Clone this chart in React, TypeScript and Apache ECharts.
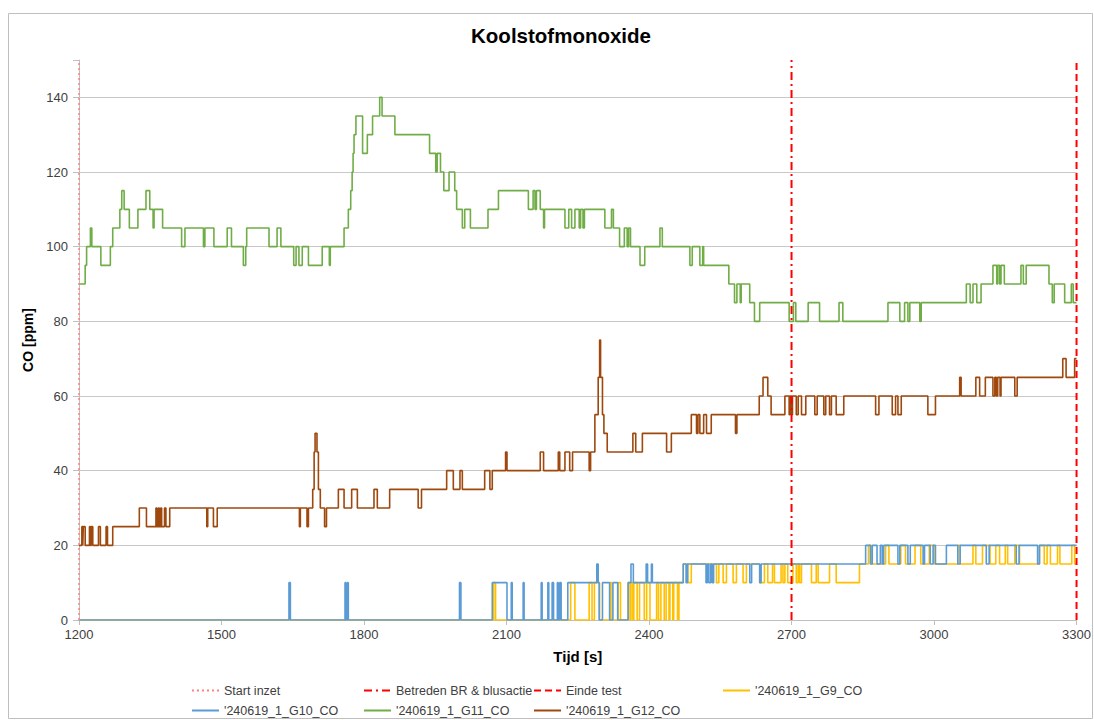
import React, { useEffect, useRef } from "react";
import * as echarts from "echarts";

// ---- Data (time [s], CO [ppm]) : value holds until the next point ----
const G9_CO: [number, number][] = [
  [1200, 0], [2073, 10], [2077, 0], [2235, 10], [2244, 0], [2274, 10], [2280, 0], [2285, 10], [2296, 0],
  [2318, 10], [2322, 0], [2335, 10], [2340, 0], [2356, 10], [2360, 0], [2362, 10], [2366, 0], [2368, 10],
  [2375, 0], [2380, 10], [2390, 0], [2395, 10], [2402, 0], [2416, 10], [2420, 0], [2425, 10], [2432, 0],
  [2436, 10], [2442, 0], [2444, 10], [2450, 0], [2452, 10], [2460, 0], [2463, 10], [2472, 15], [2482, 10],
  [2489, 15], [2542, 10], [2547, 15], [2556, 10], [2563, 15], [2577, 10], [2584, 15], [2598, 10], [2605, 15],
  [2633, 10], [2643, 15], [2650, 10], [2660, 15], [2664, 10], [2678, 15], [2682, 10], [2686, 15], [2692, 10],
  [2703, 15], [2710, 10], [2714, 15], [2717, 10], [2721, 15], [2742, 10], [2752, 15], [2756, 10], [2780, 15],
  [2794, 10], [2843, 15], [2862, 20], [2868, 15], [2898, 20], [2905, 15], [2930, 20], [2940, 15], [2960, 20],
  [2972, 15], [2990, 20], [3000, 15], [3050, 20], [3055, 15], [3082, 20], [3088, 15], [3102, 20], [3118, 15],
  [3130, 20], [3138, 15], [3150, 20], [3155, 15], [3170, 20], [3180, 15], [3222, 20], [3232, 15], [3238, 20],
  [3245, 15], [3260, 20], [3265, 15], [3290, 20], [3296, 15], [3300, 15],
];

const G10_CO: [number, number][] = [
  [1200, 0], [1642, 10], [1645, 0], [1760, 10], [1762, 0], [1765, 10], [1767, 0], [2001, 10], [2004, 0],
  [2070, 10], [2101, 0], [2110, 10], [2112, 0], [2135, 10], [2137, 0], [2173, 10], [2175, 0], [2187, 10],
  [2189, 0], [2196, 10], [2199, 0], [2207, 10], [2209, 0], [2212, 10], [2215, 0], [2229, 10], [2290, 15],
  [2293, 10], [2295, 0], [2302, 10], [2317, 0], [2324, 10], [2334, 0], [2356, 10], [2362, 15], [2367, 10],
  [2394, 15], [2397, 10], [2405, 15], [2407, 10], [2472, 15], [2478, 10], [2481, 15], [2520, 10], [2523, 15],
  [2526, 10], [2530, 15], [2533, 10], [2536, 15], [2612, 10], [2616, 15], [2633, 10], [2636, 15], [2856, 20],
  [2866, 15], [2870, 20], [2880, 15], [2887, 20], [2891, 15], [2894, 20], [2924, 15], [2928, 20], [2945, 15],
  [2950, 20], [2977, 15], [2980, 20], [2992, 15], [2998, 20], [3003, 15], [3026, 20], [3050, 15], [3055, 20],
  [3110, 15], [3116, 20], [3173, 15], [3179, 20], [3218, 15], [3222, 20], [3300, 20],
];

const G11_CO: [number, number][] = [
  [1200, 90], [1213, 95], [1216, 100], [1224, 105], [1227, 100], [1246, 95], [1266, 100], [1271, 105],
  [1286, 110], [1290, 115], [1295, 110], [1306, 105], [1324, 110], [1341, 115], [1349, 110], [1356, 105],
  [1358, 110], [1376, 105], [1416, 100], [1423, 105], [1462, 100], [1465, 105], [1484, 100], [1512, 105],
  [1521, 100], [1546, 95], [1551, 100], [1553, 105], [1600, 100], [1617, 105], [1625, 100], [1652, 95],
  [1657, 100], [1663, 95], [1670, 100], [1683, 95], [1712, 100], [1727, 95], [1729, 100], [1758, 105],
  [1767, 110], [1772, 115], [1775, 120], [1777, 125], [1779, 130], [1783, 135], [1797, 125], [1807, 130],
  [1818, 135], [1833, 140], [1838, 135], [1865, 130], [1938, 125], [1951, 120], [1954, 125], [1961, 120],
  [1968, 115], [1979, 120], [1991, 115], [1995, 110], [2007, 105], [2012, 110], [2024, 105], [2061, 110],
  [2083, 115], [2146, 110], [2156, 115], [2160, 110], [2163, 115], [2171, 110], [2178, 105], [2180, 110],
  [2223, 105], [2231, 110], [2237, 105], [2244, 110], [2253, 105], [2256, 110], [2261, 105], [2264, 110],
  [2307, 105], [2321, 110], [2325, 105], [2338, 100], [2348, 105], [2354, 100], [2357, 105], [2361, 100],
  [2381, 95], [2391, 100], [2423, 105], [2428, 100], [2486, 95], [2491, 100], [2507, 95], [2513, 100],
  [2515, 95], [2568, 90], [2580, 85], [2585, 90], [2592, 85], [2594, 90], [2612, 85], [2622, 80], [2633, 85],
  [2695, 80], [2704, 85], [2709, 80], [2735, 85], [2759, 80], [2800, 85], [2808, 80], [2903, 85], [2928, 80],
  [2938, 85], [2945, 80], [2949, 85], [2970, 80], [2973, 85], [3068, 90], [3076, 85], [3082, 90], [3090, 85],
  [3099, 90], [3124, 95], [3132, 90], [3134, 95], [3138, 90], [3141, 95], [3148, 90], [3183, 95], [3188, 90],
  [3194, 95], [3242, 90], [3249, 85], [3253, 90], [3275, 85], [3289, 90], [3293, 85], [3300, 85],
];

const G12_CO: [number, number][] = [
  [1200, 20], [1206, 25], [1208, 20], [1209, 25], [1213, 20], [1222, 25], [1224, 20], [1226, 25], [1229, 20],
  [1241, 25], [1245, 20], [1257, 25], [1260, 20], [1271, 25], [1327, 30], [1342, 25], [1362, 30], [1364, 25],
  [1367, 30], [1369, 25], [1372, 30], [1374, 25], [1380, 30], [1383, 25], [1391, 30], [1469, 25], [1471, 30],
  [1483, 25], [1491, 30], [1664, 25], [1666, 30], [1680, 25], [1683, 30], [1692, 35], [1695, 45], [1697, 50],
  [1701, 45], [1704, 35], [1708, 30], [1717, 25], [1721, 30], [1746, 35], [1758, 30], [1774, 35], [1786, 30],
  [1821, 35], [1828, 30], [1854, 35], [1914, 30], [1921, 35], [1974, 40], [1988, 35], [2002, 40], [2007, 35],
  [2054, 40], [2065, 35], [2070, 40], [2098, 45], [2101, 40], [2171, 45], [2178, 40], [2209, 45], [2212, 40],
  [2223, 45], [2233, 40], [2239, 45], [2274, 40], [2277, 45], [2286, 55], [2293, 65], [2296, 75], [2298, 65],
  [2302, 55], [2305, 50], [2312, 45], [2366, 50], [2372, 45], [2386, 50], [2437, 45], [2447, 50], [2489, 55],
  [2500, 50], [2503, 55], [2507, 50], [2515, 55], [2521, 50], [2531, 55], [2582, 50], [2585, 55], [2632, 60],
  [2640, 65], [2650, 60], [2657, 55], [2686, 60], [2695, 55], [2697, 60], [2700, 55], [2702, 60], [2710, 55],
  [2714, 60], [2721, 55], [2730, 60], [2749, 55], [2754, 60], [2768, 55], [2772, 60], [2780, 55], [2784, 60],
  [2794, 55], [2810, 60], [2877, 55], [2884, 60], [2912, 55], [2919, 60], [2924, 55], [2931, 60], [2987, 55],
  [3003, 60], [3054, 65], [3057, 60], [3088, 65], [3096, 60], [3108, 65], [3124, 60], [3128, 65], [3131, 60],
  [3134, 65], [3139, 60], [3141, 65], [3170, 60], [3175, 65], [3271, 70], [3278, 65], [3296, 70], [3300, 70],
];

// Event times [s]
const START_INZET = 1200;
const BETREDEN = 2700;
const EINDE_TEST = 3300;

// Axis settings
const X_MIN = 1200;
const X_MAX = 3300;
const X_STEP = 300;
const Y_MIN = 0;
const Y_MAX = 150;
const Y_STEP = 20;

const NAME_START = "Start inzet";
const NAME_BETREDEN = "Betreden BR & blusactie";
const NAME_EINDE = "Einde test";
const NAME_G9 = "'240619_1_G9_CO";
const NAME_G10 = "'240619_1_G10_CO";
const NAME_G11 = "'240619_1_G11_CO";
const NAME_G12 = "'240619_1_G12_CO";

const FONT = "'Liberation Sans', Arial, Helvetica, sans-serif";

export default function App() {
  const ref = useRef<HTMLDivElement>(null);

  useEffect(() => {
    if (!ref.current) return;
    const chart = echarts.init(ref.current, undefined, { renderer: "svg" });

    const dataLine = (name: string, data: [number, number][], color: string, z: number) => ({
      type: "line",
      name,
      data,
      step: "end",
      symbol: "none",
      z,
      lineStyle: { color, width: 1.6 },
      itemStyle: { color },
    });

    const vLine = (name: string, t: number, color: string, type: any, width: number) => ({
      type: "line",
      name,
      data: [
        [t, Y_MIN],
        [t, Y_MAX],
      ],
      symbol: "none",
      z: 10,
      lineStyle: { color, width, type },
      itemStyle: { color },
    });

    const legendCommon = {
      orient: "vertical",
      top: 684,
      height: 36,
      padding: 0,
      itemWidth: 27,
      itemHeight: 14,
      itemGap: 7,
      itemStyle: { opacity: 0 },
      textStyle: { fontFamily: FONT, fontSize: 12.5, color: "#404040" },
      selectedMode: false,
    };

    const splitColors: string[] = [];
    for (let v = Y_MIN; v <= Y_MAX; v += Y_STEP) splitColors.push("#C8C8C8");
    splitColors.push("rgba(0,0,0,0)");

    chart.setOption({
      animation: false,
      backgroundColor: "#ffffff",
      textStyle: { fontFamily: FONT },
      title: {
        text: "Koolstofmonoxide",
        left: 556,
        top: 20,
        textAlign: "center",
        textStyle: { fontFamily: FONT, fontSize: 20.5, fontWeight: "bold", color: "#000" },
      },
      graphic: [
        {
          type: "rect",
          shape: { x: 8.5, y: 13.5, width: 1084, height: 705 },
          style: { fill: "none", stroke: "#BFBFBF", lineWidth: 1 },
          silent: true,
          z: -1,
        },
      ],
      grid: { left: 79, right: 17, top: 60, bottom: 100 },
      xAxis: {
        type: "value",
        min: X_MIN,
        max: X_MAX,
        interval: X_STEP,
        name: "Tijd [s]",
        nameLocation: "middle",
        nameGap: 29,
        nameTextStyle: { fontFamily: FONT, fontSize: 15, fontWeight: "bold", color: "#000" },
        axisLine: { show: true, lineStyle: { color: "#BFBFBF", width: 1 } },
        axisTick: { show: true, length: 5, inside: false, lineStyle: { color: "#BFBFBF" } },
        axisLabel: {
          fontFamily: FONT,
          fontSize: 13,
          color: "#404040",
          margin: 8,
          formatter: (v: number) => String(v),
        },
        splitLine: { show: false },
      },
      yAxis: {
        type: "value",
        min: Y_MIN,
        max: Y_MAX,
        interval: Y_STEP,
        name: "CO [ppm]",
        nameLocation: "middle",
        nameGap: 42,
        nameTextStyle: { fontFamily: FONT, fontSize: 14, fontWeight: "bold", color: "#000" },
        axisLine: { show: true, lineStyle: { color: "#BFBFBF", width: 1 } },
        axisTick: { show: true, length: 6, inside: false, lineStyle: { color: "#BFBFBF" } },
        axisLabel: {
          fontFamily: FONT,
          fontSize: 13,
          color: "#404040",
          margin: 11,
          formatter: (v: number) => (v > Y_MAX - Y_STEP / 2 ? "" : String(v)),
        },
        splitLine: { show: true, lineStyle: { color: splitColors, width: 1 } },
      },
      legend: [
        { ...legendCommon, left: 191, data: [NAME_START, NAME_G10] },
        { ...legendCommon, left: 363, data: [NAME_BETREDEN, NAME_G11] },
        { ...legendCommon, left: 533, data: [NAME_EINDE, NAME_G12] },
        { ...legendCommon, left: 722, data: [NAME_G9] },
      ],
      series: [
        vLine(NAME_START, START_INZET, "#FF8080", [2, 3], 1.5),
        vLine(NAME_BETREDEN, BETREDEN, "#FF0000", [8, 4, 2, 4], 2),
        vLine(NAME_EINDE, EINDE_TEST, "#FF0000", [7, 4], 2),
        dataLine(NAME_G9, G9_CO, "#FFC000", 2),
        dataLine(NAME_G10, G10_CO, "#5B9BD5", 3),
        dataLine(NAME_G11, G11_CO, "#70AD47", 4),
        dataLine(NAME_G12, G12_CO, "#9E480E", 5),
      ],
    });

    return () => chart.dispose();
  }, []);

  return (
    <div
      ref={ref}
      style={{ position: "fixed", left: 0, top: 0, width: 1094, height: 720, background: "#fff" }}
    />
  );
}
